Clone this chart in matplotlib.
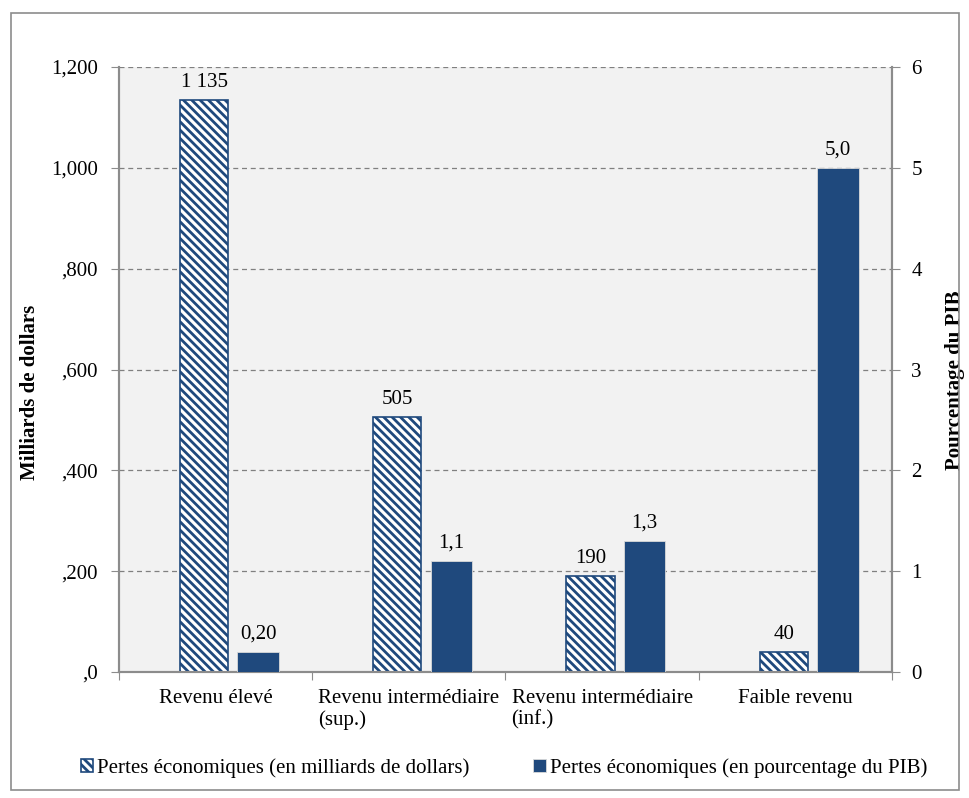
import matplotlib.pyplot as plt
from matplotlib.patches import Rectangle

plt.rcParams['font.family'] = ['Liberation Serif', 'DejaVu Serif']
plt.rcParams['hatch.color'] = '#1f497d'
plt.rcParams['hatch.linewidth'] = 2.0

categories = ['Revenu élevé', 'Revenu intermédiaire\n(sup.)',
              'Revenu intermédiaire\n(inf.)', 'Faible revenu']
pertes_mds = [1135, 505, 190, 40]
pertes_mds_labels = ['1 135', '505', '190', '40']
pertes_pib = [0.20, 1.1, 1.3, 5.0]
pertes_pib_labels = ['0,20', '1,1', '1,3', '5,0']
left_ticks = [0, 200, 400, 600, 800, 1000, 1200]
left_tick_labels = [',0', ',200', ',400', ',600', ',800', '1,000', '1,200']
right_ticks = [0, 1, 2, 3, 4, 5, 6]

navy = '#1f497d'
grey = '#8c8c8c'
fs = 15

fig = plt.figure(figsize=(9.69, 7.98), dpi=100)
fig.patches.append(Rectangle((0.011, 0.01), 0.979, 0.974, transform=fig.transFigure,
                             fill=False, edgecolor='#8c8c8c', linewidth=1.2))
ax = fig.add_axes([0.1228, 0.1579, 0.7977, 0.7581])
ax2 = ax.twinx()
ax.set_facecolor('#f2f2f2')

x = list(range(len(categories)))
xa = [i - 0.06 for i in x]
xb = [i + 0.22 for i in x]

ax.bar(xa, pertes_mds, width=0.25, color='white', edgecolor=navy, hatch='\\' * 4,
       linewidth=1.2, label='Pertes économiques (en milliards de dollars)', zorder=3)
ax2.bar(xb, pertes_pib, width=0.215, color=navy, edgecolor='#d9d9d9', linewidth=0.6,
        label='Pertes économiques (en pourcentage du PIB)', zorder=3)

for xi, v, t in zip(xa, pertes_mds, pertes_mds_labels):
    ax.text(xi, v + 16, t, ha='center', va='bottom', fontsize=fs)
for xi, v, t in zip(xb, pertes_pib, pertes_pib_labels):
    ax2.text(xi, v + 0.08, t, ha='center', va='bottom', fontsize=fs)

ax.set_ylim(0, 1200)
ax2.set_ylim(0, 6)
ax.set_xlim(-0.5, 3.5)
ax.set_yticks(left_ticks)
ax.set_yticklabels(left_tick_labels)
ax2.set_yticks(right_ticks)
ax.yaxis.grid(True, linestyle=(0, (4, 3)), color='#808080', linewidth=0.9, zorder=0)
ax.set_axisbelow(True)

ax.set_xticks([-0.5, 0.5, 1.5, 2.5, 3.5])
ax.set_xticklabels([])
ax.set_xticks(x, minor=True)
ax.set_xticklabels(categories, minor=True, multialignment='left')
ax.tick_params(axis='x', which='minor', length=0, pad=12, labelsize=fs)
ax.tick_params(axis='x', which='major', length=6, color=grey)
ax.tick_params(axis='y', length=6, color=grey, pad=9, labelsize=fs)
ax2.tick_params(axis='y', length=6, color=grey, labelsize=fs, pad=8)

for a in (ax, ax2):
    a.spines['top'].set_visible(False)
    for s in ('left', 'right', 'bottom'):
        a.spines[s].set_color(grey)
        a.spines[s].set_linewidth(1.5)

ax.set_ylabel('Milliards de dollars', fontsize=fs, fontweight='bold', va='center')
ax.yaxis.set_label_coords(-0.115, 0.462)
ax2.set_ylabel('Pourcentage du PIB', fontsize=fs, fontweight='bold', va='center',
               rotation=90)
ax2.yaxis.set_label_coords(1.081, 0.483)

h1, l1 = ax.get_legend_handles_labels()
h2, l2 = ax2.get_legend_handles_labels()
fig.legend(h1 + h2, l1 + l2, loc='center', bbox_to_anchor=(0.52, 0.038), ncol=2,
           frameon=False, fontsize=fs, handlelength=0.6, handleheight=0.6,
           handletextpad=0.2, columnspacing=3.05)

fig.savefig('out.png', dpi=100)
